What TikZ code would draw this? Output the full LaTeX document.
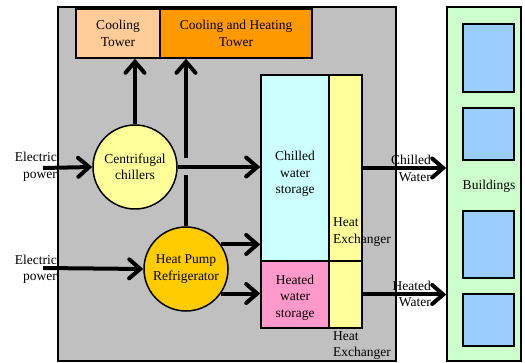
\documentclass[tikz,border=0pt]{standalone}
\usepackage{fontspec}
\setmainfont{Liberation Serif}
\usetikzlibrary{arrows.meta}
\definecolor{panel}{HTML}{C0C0C0}
\definecolor{towerlight}{HTML}{FFCC99}
\definecolor{towerdark}{HTML}{FF9900}
\definecolor{chilledfill}{HTML}{CCFFFF}
\definecolor{heatedfill}{HTML}{FF99CC}
\definecolor{exchfill}{HTML}{FFFF99}
\definecolor{pumpfill}{HTML}{FFCC00}
\definecolor{siteFill}{HTML}{CCFFCC}
\definecolor{bldgfill}{HTML}{99CCFF}
\tikzset{box/.style = {draw, line width = 1.5pt, inner sep = 0, align = center},
         plant/.style = {draw, circle, line width = 1.5pt, inner sep = 0, minimum size = 84pt, align = center},
         flow/.style = {line width = 4pt, -{Straight Barb[length = 11pt, width = 19pt, line cap = round]}},
         bldg/.style = {draw, line width = 1.5pt, fill = bldgfill, minimum width = 51pt, inner sep = 0},
         caption/.style = {align = center, inner sep = 0}}

\begin{document}
\begin{tikzpicture}[x = 1pt, y = -1pt, font = \fontsize{13.5}{16.5}\selectfont]
    \useasboundingbox (0, 0) rectangle (525, 363);
    \draw [fill = panel, line width = 2.5pt] (58, 7) rectangle (396, 361);

    \node [box, fill = towerlight, minimum width = 84pt, minimum height = 49pt] (ct) at (118, 33.5) {Cooling\\Tower};
    \node [box, fill = towerdark, minimum width = 152pt, minimum height = 49pt] (cht) at (236, 33.5) {Cooling and Heating\\Tower};

    \node [box, fill = chilledfill, minimum width = 68pt, minimum height = 186pt] (cws) at (295, 168) {};
    \node [box, fill = exchfill, minimum width = 33pt, minimum height = 186pt] (hx1) at (345.5, 168) {};
    \node [box, fill = heatedfill, minimum width = 68pt, minimum height = 67pt] (hws) at (295, 294.5) {};
    \node [box, fill = exchfill, minimum width = 33pt, minimum height = 67pt] (hx2) at (345.5, 294.5) {};
    \node [caption] (cwstxt) at (295, 174) {Chilled\\water\\storage};
    \node [caption] (hwstxt) at (295, 297.5) {Heated\\water\\storage};
    \node [caption, align = left, anchor = west] (hxtxt1) at (333, 232) {Heat\\Exchanger};
    \node [caption, align = left, anchor = west] (hxtxt2) at (333, 345.5) {Heat\\Exchanger};

    \node [plant, fill = exchfill] (cc) at (135, 167) {Centrifugal\\chillers};
    \node [plant, fill = pumpfill] (hp) at (186, 269) {Heat Pump\\Refrigerator};

    \node [box, fill = siteFill, minimum width = 74pt, minimum height = 354pt] (site) at (484, 184) {};
    \foreach \y/\h [count = \i] in {58/68, 134/52, 244.5/67, 320/52}
        \node [bldg, minimum height = \h] (b\i) at (488.5, \y) {};
    \node [caption] (sitetxt) at (489, 186) {Buildings};

    \coordinate (e1) at (43, 168);
    \coordinate (e2) at (43, 268);
    \coordinate (gapT) at (186, 158);
    \coordinate (gapB) at (186, 175);
    \draw [flow] (e1) -- (cc.west);
    \draw [flow] (e2) -- (hp.west);
    \draw [flow] (cc.north) -- (cc.north |- ct.south);
    \draw [flow] (cc.east) -- (cc.east -| cws.west);
    \draw [line width = 4pt] (hp.north) -- (gapB);
    \draw [flow] (gapT) -- (gapT |- cht.south);
    \draw [flow] (hp.35) -- (hp.35 -| cws.west);
    \draw [flow] (hp.-35) -- (hp.-35 -| hws.west);
    \draw [flow] (hx1.east) -- (hx1.east -| site.west);
    \draw [flow] (hx2.east) -- (hx2.east -| site.west);

    \node [caption, align = right, anchor = east] (ep1) at (57, 167) {Electric\\power};
    \node [caption, align = right, anchor = east] (ep2) at (57, 269.5) {Electric\\power};
    \node [caption, align = right, anchor = east] (cw) at (431, 168.5) {Chilled\\Water};
    \node [caption, align = right, anchor = east] (hw) at (431, 294) {Heated\\Water};
\end{tikzpicture}
\end{document}
